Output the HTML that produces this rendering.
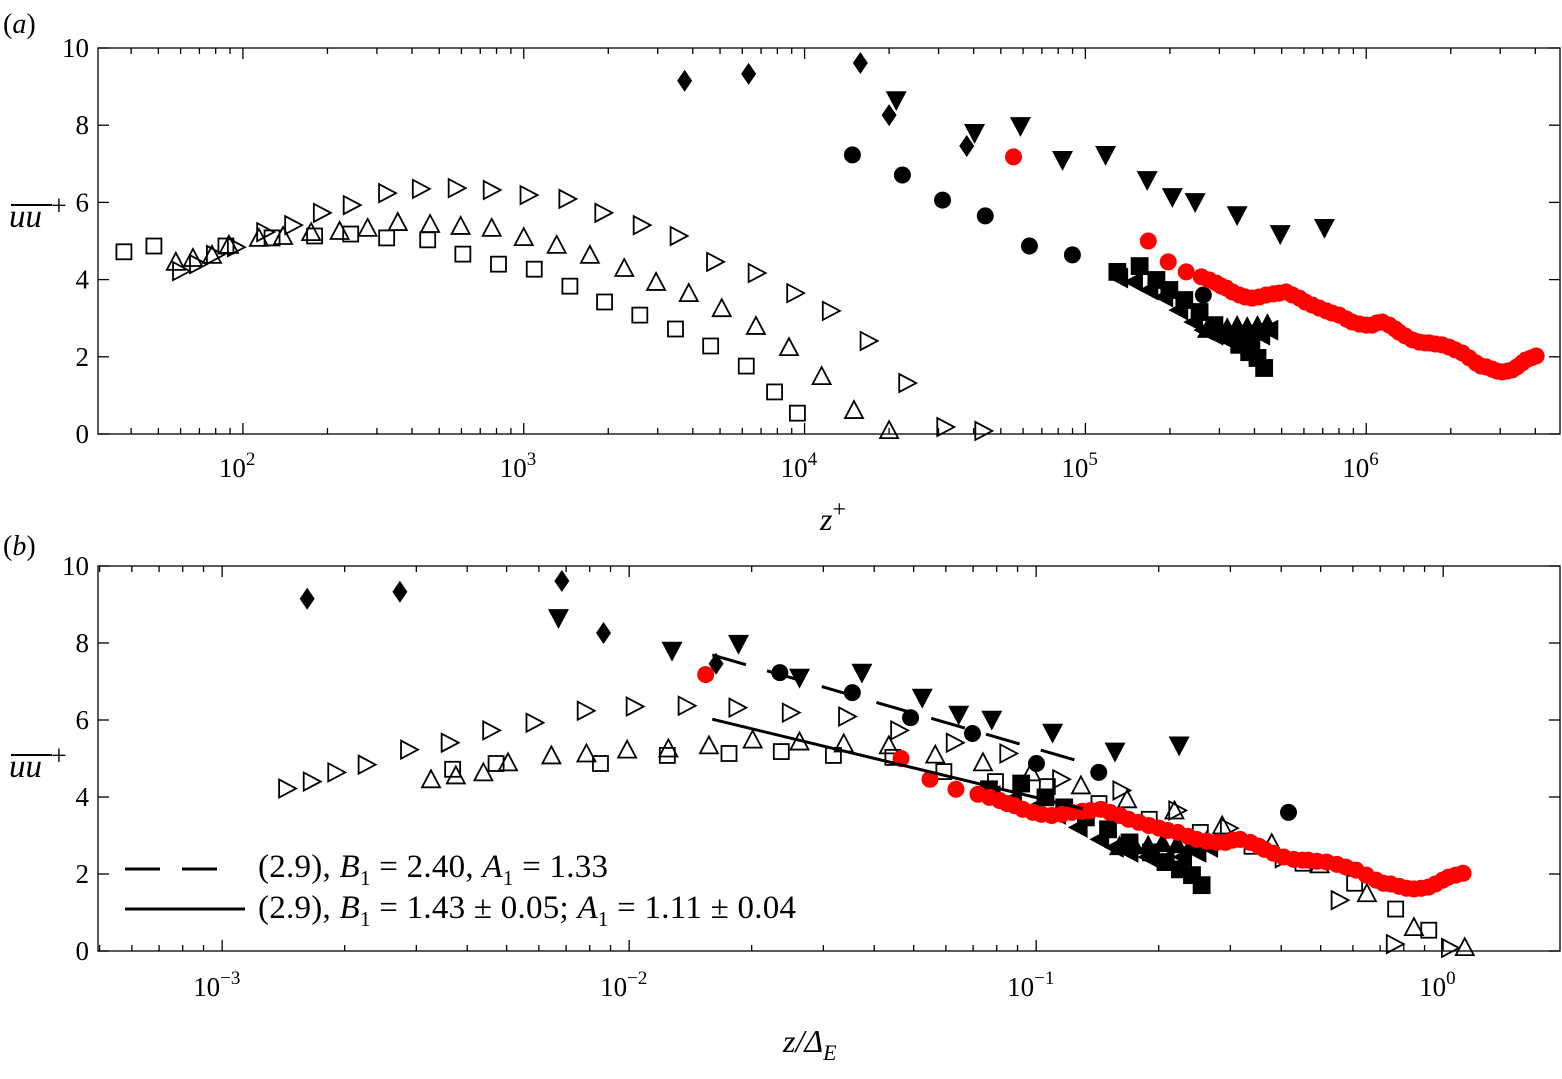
<!DOCTYPE html>
<html><head><meta charset="utf-8"><style>
html,body{margin:0;padding:0;background:#fff}
svg{display:block;font-family:"Liberation Serif",serif}
</style></head><body>
<svg id="chart" width="1562" height="1079" viewBox="0 0 1562 1079" xmlns="http://www.w3.org/2000/svg">
<g id="pa"></g>
<g id="pb"></g>
<text x="3" y="33" font-size="28" font-style="italic"><tspan font-style="normal">(</tspan>a<tspan font-style="normal">)</tspan></text>
<text x="3" y="555" font-size="28" font-style="italic"><tspan font-style="normal">(</tspan>b<tspan font-style="normal">)</tspan></text>
<g>
<text x="9" y="227" font-size="33" font-style="italic">uu</text><line x1="11" y1="205" x2="52" y2="205" stroke="#000" stroke-width="2"/>
<text x="51" y="215" font-size="28">+</text></g>
<g>
<text x="9" y="777" font-size="33" font-style="italic">uu</text><line x1="11" y1="755" x2="52" y2="755" stroke="#000" stroke-width="2"/>
<text x="51" y="765" font-size="28">+</text></g>
<text x="820" y="530" font-size="32" font-style="italic">z<tspan font-size="24" font-style="normal" dy="-13">+</tspan></text>
<text x="783" y="1052" font-size="32" font-style="italic">z/Δ<tspan font-size="22" dy="8">E</tspan></text>
<g>
<line x1="125" y1="869" x2="230" y2="869" stroke="#000" stroke-width="3" stroke-dasharray="35,22"/>
<line x1="125" y1="909" x2="245" y2="909" stroke="#000" stroke-width="3"/>
<text x="258" y="877" font-size="33" textLength="350" lengthAdjust="spacing">(2.9), <tspan font-style="italic">B</tspan><tspan font-size="21" dy="8">1</tspan><tspan dy="-8"> = 2.40, </tspan><tspan font-style="italic">A</tspan><tspan font-size="21" dy="8">1</tspan><tspan dy="-8"> = 1.33</tspan></text>
<text x="258" y="918" font-size="33" textLength="538" lengthAdjust="spacing">(2.9), <tspan font-style="italic">B</tspan><tspan font-size="21" dy="8">1</tspan><tspan dy="-8"> = 1.43 ± 0.05; </tspan><tspan font-style="italic">A</tspan><tspan font-size="21" dy="8">1</tspan><tspan dy="-8"> = 1.11 ± 0.04</tspan></text>
</g>
</svg>
<script>
// ---- data ----
const sqZ = [37.7,48.2,87,127,180,242,325,455,607,813,1090,1460,1940,2590,3470,4630,6200,7820,9430];
const sqU = [4.72,4.87,4.87,5.08,5.13,5.18,5.08,5.03,4.66,4.40,4.27,3.83,3.42,3.08,2.72,2.28,1.76,1.09,0.54];
const triZ = [57.7,66.4,77.6,89.2,114,139,175,221,278,356,464,596,769,1000,1310,1720,2280,2960,3870,5070,6710,8800,11500,15000,20000];
const triU = [4.46,4.56,4.64,4.90,5.08,5.13,5.23,5.26,5.34,5.49,5.44,5.39,5.34,5.10,4.90,4.64,4.30,3.94,3.65,3.26,2.80,2.25,1.50,0.62,0.10];
const rtriZ = [60.2,69.2,79.5,94.4,120,151,191,244,326,430,577,769,1040,1430,1920,2630,3560,4800,6750,9260,12400,16900,23200,31700,43300];
const rtriU = [4.22,4.40,4.64,4.84,5.23,5.41,5.73,5.93,6.24,6.35,6.37,6.32,6.19,6.09,5.73,5.41,5.13,4.46,4.17,3.65,3.19,2.41,1.32,0.18,0.08];
const diaZ = [3740,6320,15800,20000,37800];
const diaU = [9.15,9.33,9.61,8.26,7.46];
const dtriZ = [21200,40300,58700,82900,118000,166000,204000,246000,347000,494000,710000];
const dtriU = [8.65,7.80,7.98,7.10,7.23,6.58,6.14,6.01,5.67,5.18,5.34];
const circZ = [14800,22300,31000,44000,63200,89900,263000];
const circU = [7.23,6.71,6.06,5.65,4.87,4.64,3.60];
const fsqZ = [130000,156000,179000,199000,225000,255000,288000,325000,353000,383000,410000,433000];
const fsqU = [4.20,4.35,3.99,3.73,3.47,3.16,2.82,2.56,2.31,2.12,1.97,1.71];
const ltriZ = [132000,149000,169000,191000,216000,244000,265000,288000,320000,353000,390000,423000,452000];
const ltriU = [4.04,3.94,3.73,3.55,3.21,2.90,2.69,2.56,2.44,2.38,2.44,2.56,2.69];
const utriZ = [272000,295000,320000,347000,377000,410000,445000];
const utriU = [2.72,2.77,2.74,2.80,2.77,2.80,2.85];
const redLogZ = [4.744,5.224,5.295,5.359,5.413,5.441,5.466,5.484,5.502,5.523,5.548,5.569,5.594,5.619,5.644,5.669,5.690,5.715,5.737,5.762,5.783,5.808,5.833,5.858,5.879,5.904,5.929,5.950,5.975,6.000,6.021,6.039,6.057,6.082,6.103,6.117,6.139,6.164,6.189,6.210,6.224,6.246,6.270,6.295,6.317,6.342,6.367,6.391,6.409,6.427,6.448,6.466,6.484,6.502,6.520,6.537,6.555,6.569,6.587,6.605];
const redU = [7.18,5.00,4.46,4.20,4.07,3.99,3.91,3.83,3.78,3.68,3.60,3.55,3.52,3.55,3.60,3.63,3.65,3.68,3.60,3.52,3.42,3.34,3.26,3.19,3.13,3.08,2.98,2.90,2.85,2.82,2.82,2.88,2.90,2.82,2.72,2.64,2.54,2.44,2.38,2.36,2.36,2.33,2.31,2.25,2.18,2.10,1.97,1.84,1.76,1.74,1.68,1.63,1.61,1.63,1.66,1.74,1.84,1.92,1.97,2.02];
// log10 of Delta_E^+ per dataset (maps z+ to z/Delta_E)
const logDelta = {sq:4.01, tri:4.248, rtri:4.62, dia:6.364, dtri:6.50, circ:5.80, fsq:6.23, ltri:6.23, utri:6.23, red:6.556};
const fitDashed = {B1:2.40, A1:1.33, c:1.17, zFrom:0.016, zTo:0.135};
const fitSolid = {B1:1.43, A1:1.11, c:1.0, zFrom:0.016, zTo:0.13};
const yTicks = [0,2,4,6,8,10];

// ---- axes ----
const NS='http://www.w3.org/2000/svg';
function mk(tag, attrs, parent){const e=document.createElementNS(NS,tag);for(const k in attrs)e.setAttribute(k,attrs[k]);parent.appendChild(e);return e;}
const A={g:document.getElementById('pa'),x0:98,x1:1560,y0:48,y1:434,lmin:1.484,lmax:6.690,tickY:477};
const B={g:document.getElementById('pb'),x0:98,x1:1560,y0:566,y1:951,lmin:-3.305,lmax:0.287,tickY:996};
function xs(P,l){return P.x0+(l-P.lmin)/(P.lmax-P.lmin)*(P.x1-P.x0);}
function ys(P,v){return P.y1-v/10*(P.y1-P.y0);}

function drawAxes(P, key){
  const fr=mk('rect',{x:P.x0,y:P.y0,width:P.x1-P.x0,height:P.y1-P.y0,fill:'none',stroke:'#000','stroke-width':1.3},P.g);
  
  
  for(let d=Math.floor(P.lmin);d<=Math.ceil(P.lmax);d++){
    for(let m=1;m<10;m++){
      const l=d+Math.log10(m);
      if(l<P.lmin||l>P.lmax)continue;
      const x=xs(P,l), len=m===1?11:6;
      const t1=mk('line',{x1:x,y1:P.y1,x2:x,y2:P.y1-len,stroke:'#000','stroke-width':1.3},P.g);
      
      
      const t2=mk('line',{x1:x,y1:P.y0,x2:x,y2:P.y0+len,stroke:'#000','stroke-width':1.3},P.g);
      
      
      if(m===1){
        const off=d<0?-2:3;
        const tx=mk('text',{x:x+off,y:P.tickY,'font-size':27,'text-anchor':'end'},P.g);
        tx.textContent='10';
        
        
        const sp=mk('text',{x:x+off,y:P.tickY-12,'font-size':19},P.g);
        sp.textContent=d<0?'\u2212'+(-d):String(d);
        
        
      }
    }
  }
  yTicks.forEach(v=>{
    const y=ys(P,v);
    const a=mk('line',{x1:P.x0,y1:y,x2:P.x0+11,y2:y,stroke:'#000','stroke-width':1.3},P.g);
    
    
    const b=mk('line',{x1:P.x1,y1:y,x2:P.x1-11,y2:y,stroke:'#000','stroke-width':1.3},P.g);
    
    
    const t=mk('text',{x:P.x0-9,y:y+9,'font-size':27,'text-anchor':'end'},P.g);
    t.textContent=String(v);
    
    
  });
}
drawAxes(A,'a');drawAxes(B,'b');

function marker(P,type,x,y,parent){
  const sw=1.8; let e;
  if(type==='sq'||type==='fsq'){
    const s=type==='sq'?15:16;
    e=mk('rect',{x:x-s/2,y:y-s/2,width:s,height:s,fill:type==='fsq'?'#000':'none',stroke:'#000','stroke-width':sw},parent);
  } else if(type==='circ'){
    e=mk('circle',{cx:x,cy:y,r:8.5,fill:'#000'},parent);
  } else if(type==='red'){
    e=mk('circle',{cx:x,cy:y,r:8.5,fill:'#f00'},parent);
  } else if(type==='dia'){
    e=mk('polygon',{points:`${x},${y-11} ${x+7.5},${y} ${x},${y+11} ${x-7.5},${y}`,fill:'#000'},parent);
  } else {
    const h=16,w=18; let pts;
    if(type==='tri'||type==='utri')pts=`${x},${y-h/2-1} ${x+w/2},${y+h/2} ${x-w/2},${y+h/2}`;
    else if(type==='dtri')pts=`${x},${y+h/2+1} ${x+w/2},${y-h/2} ${x-w/2},${y-h/2}`;
    else if(type==='rtri')pts=`${x+h/2+1},${y} ${x-h/2},${y-w/2} ${x-h/2},${y+w/2}`;
    else pts=`${x-h/2-1},${y} ${x+h/2},${y-w/2} ${x+h/2},${y+w/2}`;
    const filled=(type==='dtri'||type==='utri'||type==='ltri');
    e=mk('polygon',{points:pts,fill:filled?'#000':'none',stroke:'#000','stroke-width':sw},parent);
  }
  return e;
}

const series=[
  ['sq',sqZ,sqU,'open-square'],['tri',triZ,triU,'open-triangle'],['rtri',rtriZ,rtriU,'open-right-triangle'],
  ['dia',diaZ,diaU,'diamond'],['dtri',dtriZ,dtriU,'filled-down-triangle'],['circ',circZ,circU,'filled-circle'],
  ['fsq',fsqZ,fsqU,'filled-square'],['ltri',ltriZ,ltriU,'filled-left-triangle'],['utri',utriZ,utriU,'filled-up-triangle']
];
function drawSeries(P,key,shift){
  series.forEach(([t,zs,us,nm])=>{
    const g=mk('g',{},P.g);
    
    
    zs.forEach((z,i)=>{
      const l=Math.log10(z)-(shift?logDelta[t]:0);
      const m=marker(P,t,xs(P,l),ys(P,us[i]),g);
      
      
    });
  });
  const g=mk('g',{},P.g);
  
  
  redLogZ.forEach((l0,i)=>{
    const l=l0-(shift?logDelta.red:0);
    const m=marker(P,'red',xs(P,l),ys(P,redU[i]),g);
    
    
  });
}
drawSeries(A,'a',false);
drawSeries(B,'b',true);

function fitLine(f,dash,name){
  const z1=f.zFrom,z2=f.zTo;
  const y1=f.B1-f.A1*Math.log(f.c*z1), y2=f.B1-f.A1*Math.log(f.c*z2);
  const attrs={x1:xs(B,Math.log10(z1)),y1:ys(B,y1),x2:xs(B,Math.log10(z2)),y2:ys(B,y2),stroke:'#000','stroke-width':3};
  if(dash)attrs['stroke-dasharray']=dash;
  const l=mk('line',attrs,B.g);
  
  
}
fitLine(fitDashed,'35,22','fit-line-dashed');
fitLine(fitSolid,null,'fit-line-solid');
</script>
</body></html>
